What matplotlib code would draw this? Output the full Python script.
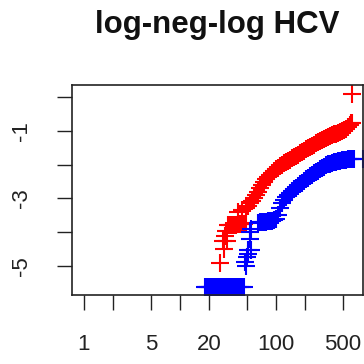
import matplotlib
matplotlib.use("Agg")
import matplotlib.pyplot as plt
from matplotlib.ticker import FixedLocator, FixedFormatter

plt.rcParams['font.family'] = ['Liberation Sans', 'DejaVu Sans']

title = "log-neg-log HCV"

# group 1 (red): time, log(-log S)
red_t = [26.1, 28.7, 28.0, 31.0, 29.4, 30.1,
         31.6, 33.2, 34.8, 36.5, 38.3, 40.2, 42.2, 44.2, 46.4, 48.7,
         40.2, 44.2, 48.7, 51.1, 53.6, 56.2, 59.0, 61.9, 64.9, 68.1,
         71.5, 75.0, 78.7, 82.5, 86.6, 90.8, 95.3, 100, 104.9, 110,
         115.5, 121.2, 127.1, 133.4, 139.9, 146.8, 154, 161.6, 169.5, 177.8,
         186.6, 195.7, 205.4, 215.4, 226, 237, 249, 261, 274, 287,
         302, 316, 332, 348, 365, 383, 402, 422, 442, 464,
         487, 511, 536, 562, 590, 605, 619, 619]
red_v = [-4.93, -4.50, -4.28, -4.28, -4.12, -3.98,
         -3.80, -3.80, -3.79, -3.78, -3.78, -3.77, -3.76, -3.76, -3.75, -3.74,
         -3.40, -3.35, -3.30, -3.22, -3.15, -3.08, -3.00, -2.90, -2.80, -2.70,
         -2.60, -2.52, -2.44, -2.37, -2.31, -2.25, -2.19, -2.14, -2.09, -2.04,
         -2.00, -1.96, -1.92, -1.88, -1.85, -1.81, -1.78, -1.74, -1.70, -1.66,
         -1.62, -1.58, -1.55, -1.51, -1.48, -1.44, -1.41, -1.37, -1.34, -1.31,
         -1.28, -1.25, -1.22, -1.19, -1.16, -1.13, -1.10, -1.08, -1.05, -1.03,
         -1.00, -0.97, -0.93, -0.88, -0.82, -0.76, -0.76, 0.10]

# group 2 (blue): time, log(-log S)
blue_t = [18.2, 18.7, 19.6, 20.5, 21.5, 22.6, 23.7, 24.9, 26.1, 27.4, 28.7,
          30.1, 31.6, 33.2, 34.8, 36.5, 38.3, 40.2, 42.2, 44.2, 46.4,
          47.5, 48.7, 49.5, 50.5, 51.0, 55.0, 53.0, 54.0, 55.5,
          64.9, 68.1, 71.5, 75.0, 78.7, 82.5, 86.6, 90.8, 95.3, 100,
          104.9, 110, 115.5, 121.2, 127.1, 133.4, 139.9, 146.8, 154, 161.6,
          169.5, 177.8, 186.6, 195.7, 205.4, 215.4, 226, 237, 249, 261,
          274, 287, 302, 316, 332, 348, 365, 383, 402, 422,
          442, 464, 487, 511, 536, 562, 590, 619, 649, 800]
blue_v = [-5.63, -5.63, -5.63, -5.63, -5.63, -5.63, -5.63, -5.63, -5.63, -5.63, -5.63,
          -5.63, -5.63, -5.63, -5.63, -5.63, -5.63, -5.63, -5.63, -5.63, -5.63,
          -4.88, -5.02, -4.75, -4.65, -4.53, -4.53, -4.20, -4.00, -3.90,
          -3.72, -3.71, -3.70, -3.70, -3.69, -3.68, -3.67, -3.66, -3.64, -3.62,
          -3.48, -3.30, -3.15, -3.05, -2.97, -2.90, -2.84, -2.78, -2.73, -2.69,
          -2.64, -2.58, -2.53, -2.48, -2.44, -2.39, -2.35, -2.30, -2.26, -2.22,
          -2.18, -2.14, -2.10, -2.06, -2.02, -1.99, -1.97, -1.95, -1.93, -1.91,
          -1.89, -1.88, -1.87, -1.86, -1.85, -1.84, -1.83, -1.83, -1.82, -1.84]

x_ticks = [1, 2, 5, 10, 20, 50, 100, 200, 500]
x_labels = ["1", "", "5", "", "20", "", "100", "", "500"]
y_ticks = [-5, -4, -3, -2, -1, 0]
y_labels = ["-5", "", "-3", "", "-1", ""]

fig = plt.figure(figsize=(3.64, 3.64), dpi=100)
ax = fig.add_axes([72/364, 1-295/364, (363-72)/364, (295-85)/364])

ms = 12.5
mew = 1.5
ax.plot(red_t, red_v, linestyle='none', marker='+', color='#ff0000', ms=ms, mew=mew)
ax.plot(blue_t, blue_v, linestyle='none', marker='+', color='#0000ff', ms=ms, mew=mew)

ax.set_xscale('log')
ax.set_xlim(0.75, 806)
ax.set_ylim(-5.87, 0.365)

ax.xaxis.set_major_locator(FixedLocator(x_ticks))
ax.xaxis.set_major_formatter(FixedFormatter(x_labels))
ax.xaxis.set_minor_locator(FixedLocator([]))
ax.yaxis.set_major_locator(FixedLocator(y_ticks))
ax.yaxis.set_major_formatter(FixedFormatter(y_labels))

ax.tick_params(axis='both', direction='out', length=11, width=1.0, color='#222222',
               labelsize=16, labelcolor='#222222')
ax.tick_params(axis='x', pad=17)
ax.tick_params(axis='y', pad=18)
for lab in ax.get_yticklabels():
    lab.set_rotation(90)
    lab.set_va('center')
for sp in ax.spines.values():
    sp.set_linewidth(1.2)
    sp.set_color('#222222')

fig.text(217.5/364, 1-33/364, title, ha='center', va='baseline',
         fontsize=22.5, fontweight='bold', color='#111111')

fig.savefig('out.png', dpi=100)
